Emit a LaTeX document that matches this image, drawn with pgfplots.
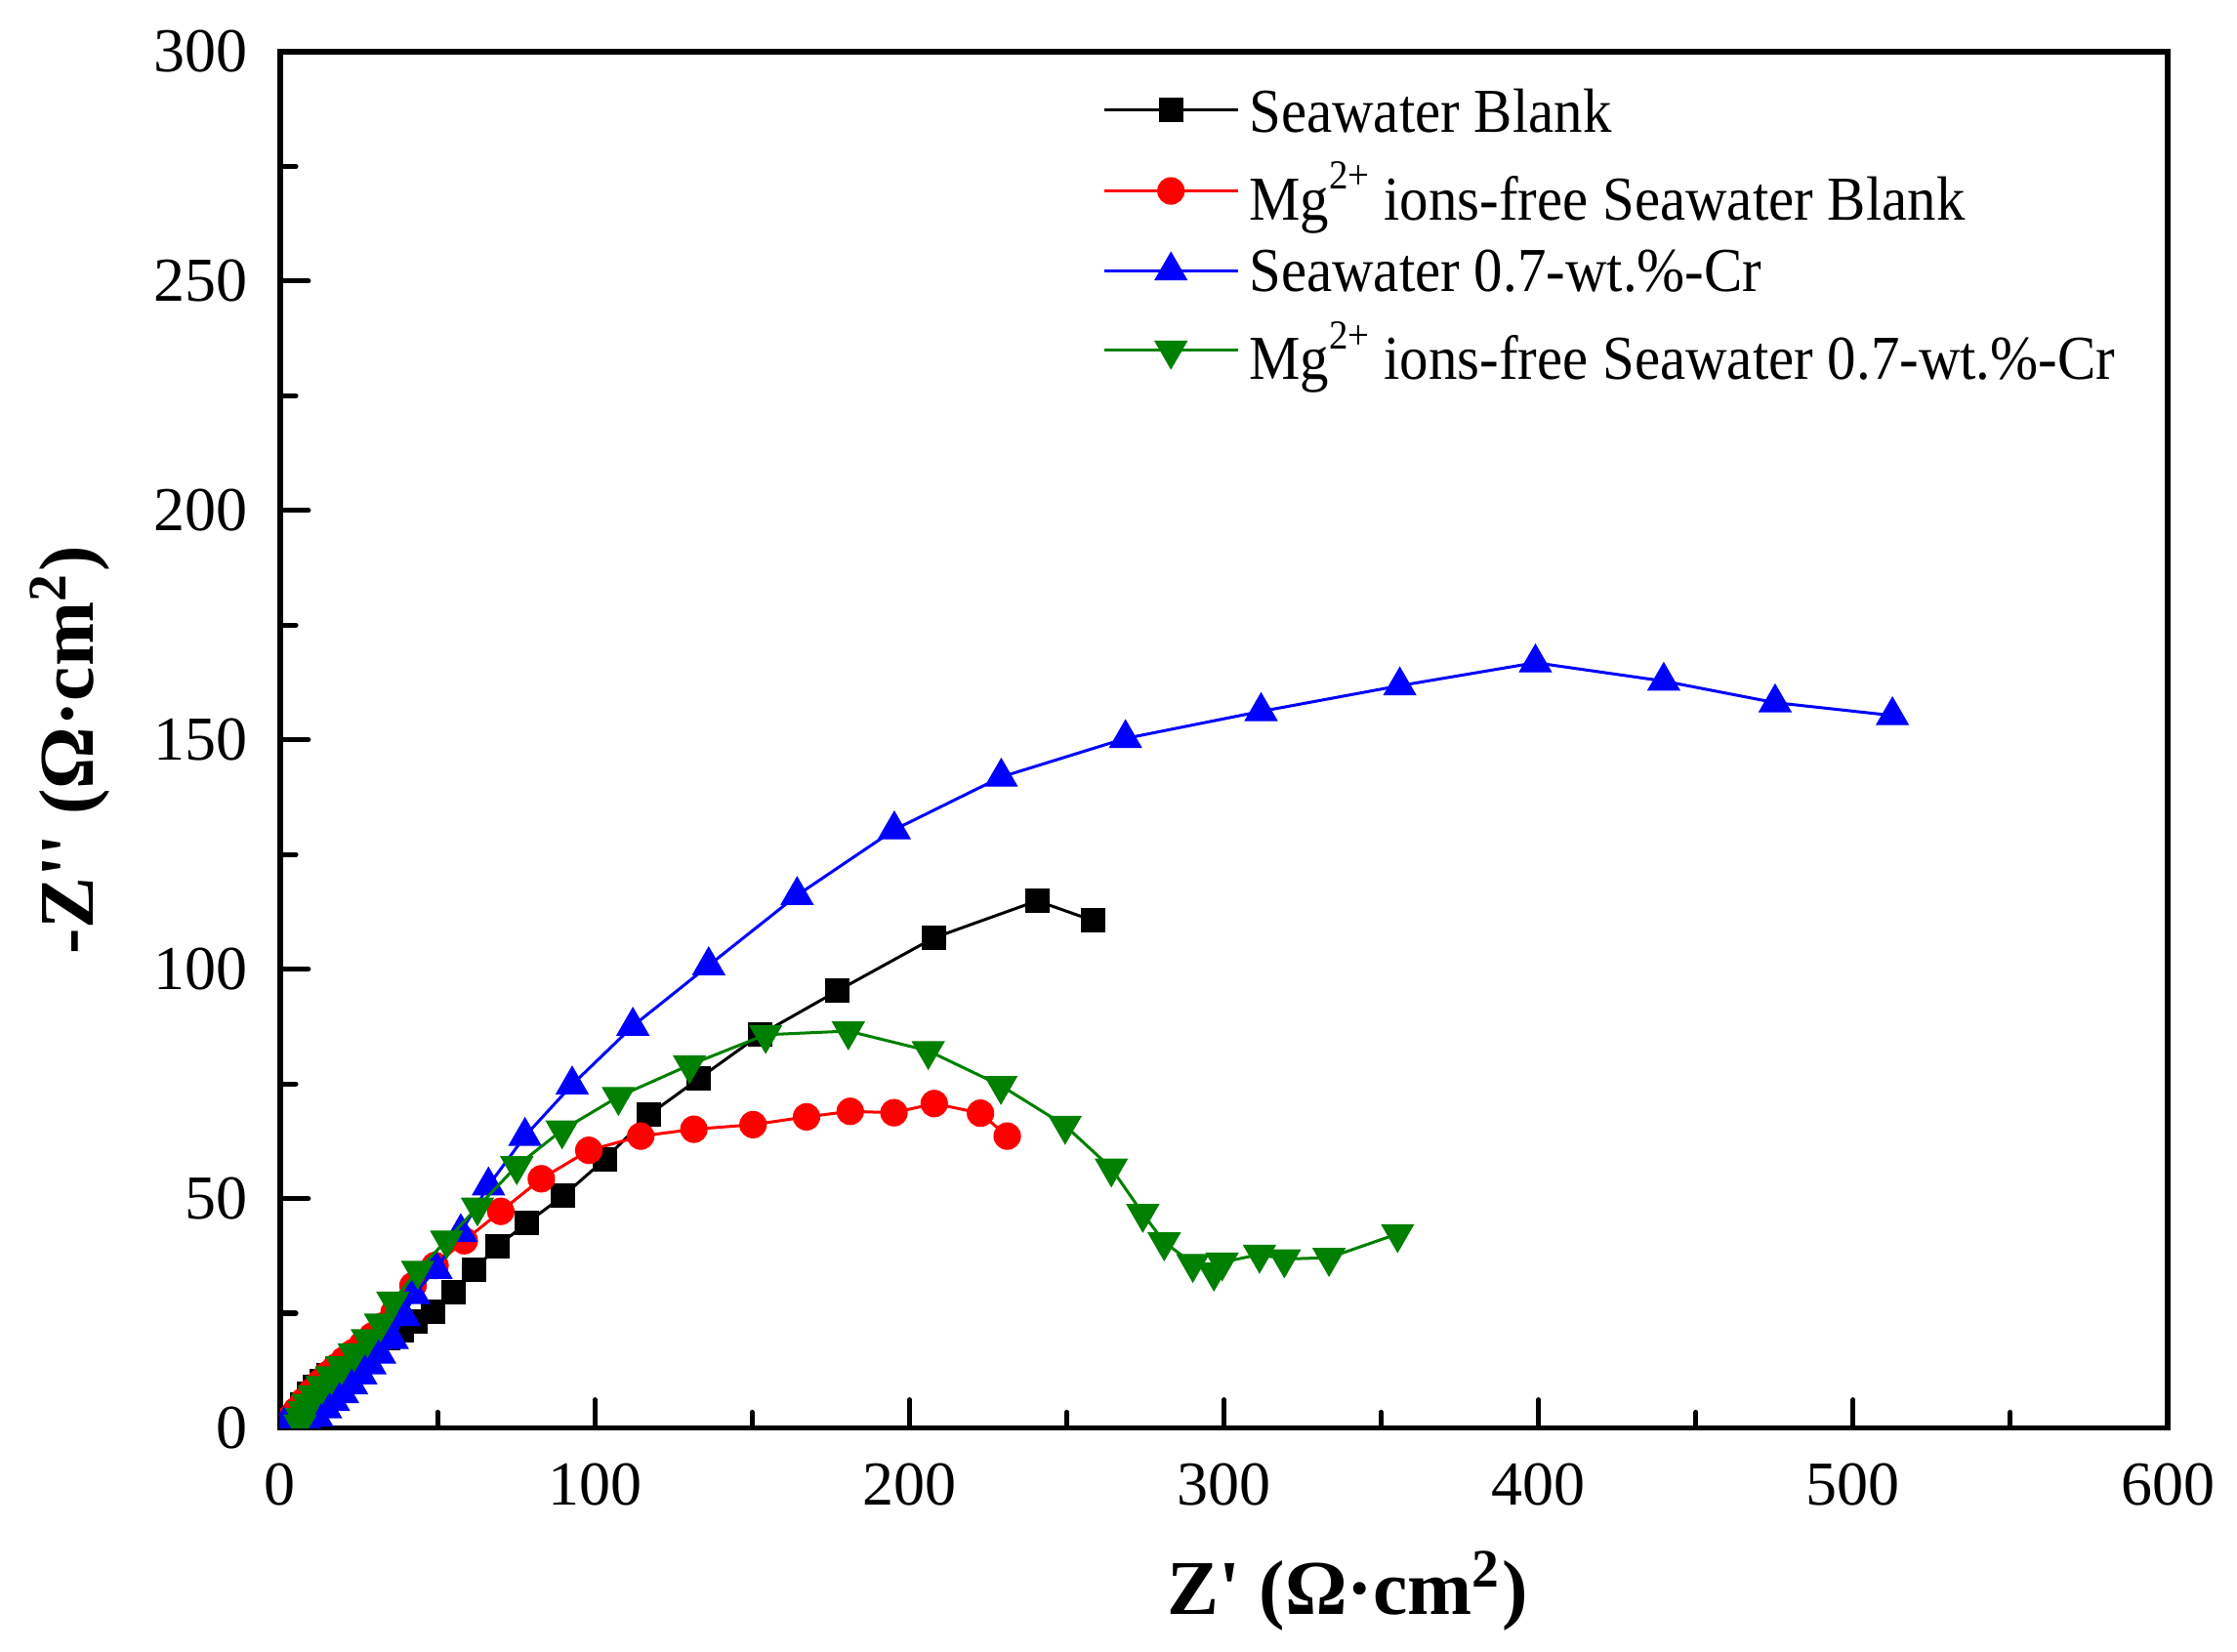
\documentclass[border=0pt]{standalone}
\usepackage{pgfplots}
\pgfplotsset{compat=1.18}
\usepackage{fontspec}
\setmainfont{Liberation Serif}
\newfontfamily\legfont{Liberation Serif}[FakeStretch=0.92]
\definecolor{dgreen}{RGB}{0,128,0}
\newcommand{\legsup}[1]{\raisebox{4.9pt}{\fontsize{6.6}{7}\selectfont #1}}
\begin{document}
\begin{tikzpicture}
\begin{axis}[
  scale only axis,
  width=302pt, height=220.2pt,
  xmin=0, xmax=600, ymin=0, ymax=300,
  xtick={0,100,...,600}, ytick={0,50,...,300},
  minor x tick num=1, minor y tick num=1,
  tick align=inside, xtick pos=bottom, ytick pos=left,
  major tick length=4.5pt, minor tick length=2.5pt,
  every tick/.style={black, line width=0.8pt, line cap=round},
  axis line style={line width=0.8pt},
  /pgf/number format/assume math mode=true,
  ticklabel style={font=\fontsize{10}{12}\selectfont},
  yticklabel style={xshift=-1.7pt},
  xticklabel style={yshift=-2.2pt},
  xlabel={Z\textquotesingle{} (Ω·cm\textsuperscript{2})},
  ylabel={-Z\textquotesingle\textquotesingle{} (Ω·cm\textsuperscript{2})},
  xlabel style={at={(axis description cs:0.5655,-0.1355)}, anchor=base, font=\fontsize{12.4}{14}\selectfont\bfseries},
  ylabel style={at={(axis description cs:-0.0993,0.4922)}, anchor=base, font=\fontsize{12.4}{14}\selectfont\bfseries},
  clip marker paths=true,
  legend cell align=left,
  legend style={draw=none, fill=none, inner sep=0pt, outer sep=0pt,
    at={(axis description cs:0.4357,0.9773)}, anchor=north west,
    font=\fontsize{10}{12}\selectfont\legfont,
    nodes={inner sep=0.9pt, text depth=0pt},
    row sep=3pt, column sep=0.7pt},
  legend image code/.code={\draw[mark repeat=2,mark phase=2] plot coordinates {(0pt,0pt) (10.7pt,0pt) (21.4pt,0pt)};},
]
\coordinate (SW) at (rel axis cs:0,0);
\coordinate (NE) at (rel axis cs:1,1);
\addplot[black, line width=0.47pt, mark=square*, mark size=1.85pt, mark options={solid, fill=black, line width=0.2pt}] coordinates {
(5,2.5)(7,5)(9,7.4)(11,9)(13.1,10.3)(15.5,11.5)(18,12.7)(21,14)(24,15)(27.2,15.9)(30.4,17.4)(34.3,19.6)(38.7,21.3)(43,23.2)(48.5,25.4)(55.1,29.5)(61.7,34.5)(69,39.6)(78.3,44.6)(90,50.6)(103.3,58.6)(117.3,68.3)(133,76.1)(152.5,85.7)(177.2,95.3)(207.7,106.8)(240.6,114.9)(258.3,110.6)
};
\addlegendentry{Seawater Blank}
\addplot[red, line width=0.47pt, mark=*, mark size=2.1pt, mark options={solid, fill=red, line width=0.2pt}] coordinates {
(1.8,0.8)(3.3,2.2)(5.1,3.8)(7.5,5.9)(10,7.9)(12.5,9.8)(15,11.6)(17.6,13.2)(20.3,14.8)(23.1,16.4)(26,18.1)(29.2,20)(32.5,22.2)(36.2,25.2)(42.2,31)(49.2,35.4)(58.5,40.8)(70.1,47.2)(83,54.3)(98.1,60.5)(114.6,63.6)(131.5,65.1)(150.3,66.1)(167.3,67.8)(181.2,69)(195.1,68.7)(207.9,70.7)(222.6,68.6)(231.1,63.6)
};
\addlegendentry{Mg\legsup{2+} ions-free Seawater Blank}
\addplot[blue, line width=0.47pt, mark=triangle*, mark size=2.9pt, mark options={solid, fill=blue, line width=0.2pt}] coordinates {
(1.2,0.5)(8.5,1.0)(11.6,2.4)(14.4,4.2)(16.9,5.8)(19.8,7.5)(22.7,9.4)(25.6,11.6)(28.5,13.8)(31.6,16.1)(35.6,19.3)(39.4,24.3)(42.5,29.1)(49.5,34.6)(57.4,42.6)(66.2,52.8)(77.8,63.6)(92.8,74.8)(112.1,87.6)(136.2,100.8)(164.3,116.1)(195.2,130.4)(229.2,141.9)(268.7,150.3)(311.8,156.2)(355.9,161.8)(399,166.8)(439.8,162.8)(475.2,158.1)(512.5,155.3)
};
\addlegendentry{Seawater 0.7-wt.\%-Cr}
\addplot[dgreen, line width=0.47pt, mark=triangle*, mark size=2.9pt, mark options={solid, fill=dgreen, rotate=180, line width=0.2pt}] coordinates {
(6.3,0.8)(6.8,2.2)(7.6,3.7)(8.9,5.3)(10.8,7.1)(13.3,9.2)(16.3,11.3)(19.6,13.5)(23.5,16.3)(27.7,19.4)(31.9,22.8)(35.8,27.6)(43.7,34.3)(52.9,40.9)(62.7,48.1)(75.2,57.1)(89.6,64.9)(107.5,72.2)(130.1,79.1)(154.3,85.7)(180.6,86.5)(206,82.2)(229.1,74.6)(249.5,65.9)(264.2,56.6)(274.2,46.7)(281,40.5)(290.1,35.8)(296.8,33.9)(299.4,36.1)(311.3,37.8)(319.2,36.8)(333.4,37.1)(355.2,42.3)
};
\addlegendentry{Mg\legsup{2+} ions-free Seawater 0.7-wt.\%-Cr}
\end{axis}
\path ([xshift=-44.84pt,yshift=-34.69pt]SW) rectangle ([xshift=11.09pt,yshift=8.28pt]NE);
\end{tikzpicture}
\end{document}
